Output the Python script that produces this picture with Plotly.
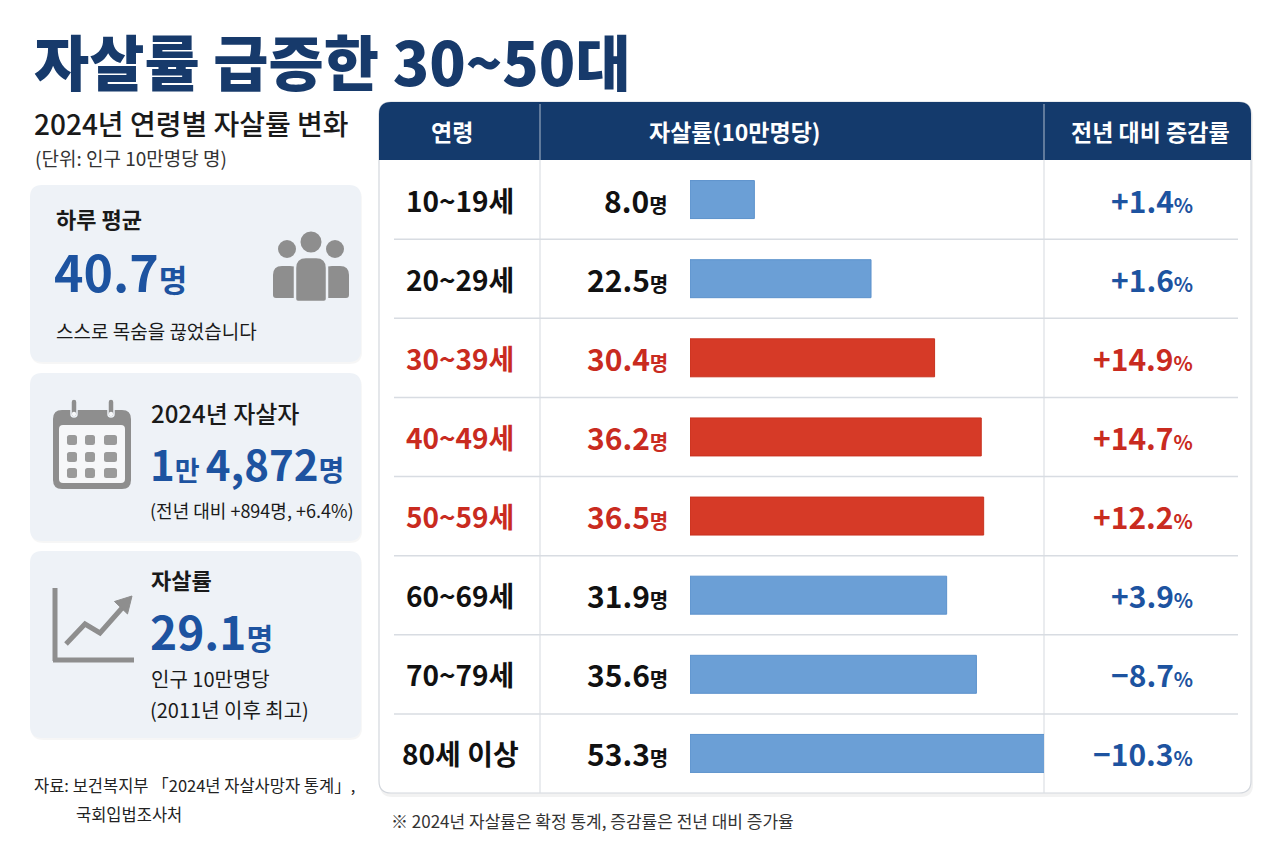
import plotly.graph_objects as go

# ---------------- data ----------------
ages = ["10~19세", "20~29세", "30~39세", "40~49세", "50~59세", "60~69세", "70~79세", "80세 이상"]
rates = [8.0, 22.5, 30.4, 36.2, 36.5, 31.9, 35.6, 53.3]          # 자살률 (10만명당)
changes = [1.4, 1.6, 14.9, 14.7, 12.2, 3.9, -8.7, -10.3]          # 전년 대비 증감률 (%)
highlight = [False, False, True, True, True, False, False, False]  # 30~50대 강조

daily_avg = 40.7
total_deaths = 14872
total_diff = 894
total_diff_pct = 6.4
overall_rate = 29.1
record_since = 2011

# ---------------- style ----------------
W, H = 1280, 853
FONT = "Noto Sans CJK KR, Noto Sans, sans-serif"
NAVY = "#173a6b"
HEAD = "#143a6c"
BLUE_TXT = "#1d53a0"
RED_TXT = "#c92b1f"
BLUE_BAR = "#6b9fd6"
RED_BAR = "#d63a27"
CARD = "#eef2f7"
ICON = "#8e8e8e"
DARK = "#1a1a1a"


def X(px):
    return px / W


def Y(py):
    return 1 - py / H


def P(x, y):
    return f"{X(x):.5f},{Y(y):.5f}"


def rpath(x0, y0, x1, y1, r, rb=None):
    rb = r if rb is None else rb
    return (f"M{P(x0 + r, y0)} L{P(x1 - r, y0)} Q{P(x1, y0)} {P(x1, y0 + r)} "
            f"L{P(x1, y1 - rb)} Q{P(x1, y1)} {P(x1 - rb, y1)} L{P(x0 + rb, y1)} "
            f"Q{P(x0, y1)} {P(x0, y1 - rb)} L{P(x0, y0 + r)} Q{P(x0, y0)} {P(x0 + r, y0)} Z")


shapes = []
annots = []


def rect(x0, y0, x1, y1, r, fill, line=None, lw=0, rb=None, layer="below"):
    shapes.append(dict(type="path", xref="paper", yref="paper", path=rpath(x0, y0, x1, y1, r, rb),
                       fillcolor=fill, line=dict(color=line or fill, width=lw), layer=layer))


def circle(cx, cy, r, fill, line=None, lw=0):
    shapes.append(dict(type="circle", xref="paper", yref="paper",
                       x0=X(cx - r), x1=X(cx + r), y0=Y(cy + r), y1=Y(cy - r),
                       fillcolor=fill, line=dict(color=line or fill, width=lw), layer="below"))


def line(x0, y0, x1, y1, color, w):
    shapes.append(dict(type="line", xref="paper", yref="paper", x0=X(x0), y0=Y(y0), x1=X(x1), y1=Y(y1),
                       line=dict(color=color, width=w), layer="below"))


def txt(x, y, s, size, color=DARK, weight=400, xanchor="left", yref="paper", family=FONT):
    annots.append(dict(x=X(x), y=(Y(y) if yref == "paper" else y), xref="paper", yref=yref, text=s,
                       showarrow=False, xanchor=xanchor, yanchor="middle", borderpad=0, valign="middle",
                       font=dict(family=family, size=size, color=color, weight=weight)))


# ---------------- title block ----------------
txt(33, 60, "자살률 급증한 30~50대", 60, NAVY, 900)
txt(33, 123, "2024년 연령별 자살률 변화", 28, DARK, 500)
txt(34, 158, "(단위: 인구 10만명당 명)", 19, "#333333", 400)

# ---------------- cards ----------------
for (y0, y1) in [(185, 362), (373, 541), (551, 738)]:
    rect(31, y0 + 2, 362, y1 + 2, 12, "rgba(0,0,0,0.035)")
    rect(30, y0, 361, y1, 12, CARD)

# card 1
txt(55, 218, "하루 평균", 22, DARK, 700)
txt(53, 270, f"<b>{daily_avg:.1f}</b><span style='font-size:31px'><b>명</b></span>", 50, BLUE_TXT, 700)
txt(55, 330, "스스로 목숨을 끊었습니다", 19, DARK, 400)
# people icon
rect(273, 266, 299, 298, 9, ICON, rb=3)
rect(323, 266, 349, 298, 9, ICON, rb=3)
circle(287, 249, 9, ICON)
circle(335, 249, 9, ICON)
rect(295, 257, 327, 302, 11, ICON, line=CARD, lw=2.5, rb=3)
circle(311, 242, 11.5, ICON, line=CARD, lw=2)

# card 2
txt(150, 412, "2024년 자살자", 24, DARK, 500)
man = total_deaths // 10000
rest = total_deaths % 10000
txt(149, 462, f"<b>{man}</b><span style='font-size:27px'><b>만 </b></span>"
              f"<b>{rest:,}</b><span style='font-size:28px'><b>명</b></span>",
    42, BLUE_TXT, 700)
txt(149, 510, f"(전년 대비 +{total_diff}명, +{total_diff_pct:.1f}%)", 18, DARK, 400)
# calendar icon
rect(53, 410, 131, 489, 9, ICON)
rect(59, 425, 125, 483, 4, "#f6f7f9")
for (rx0, rx1, cx) in [(71, 77, 74), (108, 114, 111)]:
    rect(rx0, 399, rx1, 417, 3, ICON, line=CARD, lw=1.5)
    circle(cx, 414, 2.2, "#f6f7f9")
for (ry0, ry1) in [(435, 445), (452, 462), (468, 478)]:
    for (cx0, cx1) in [(67, 77), (85, 95), (104, 117)]:
        rect(cx0, ry0, cx1, ry1, 2.5, "#9a9a9a")

# card 3
txt(150, 579, "자살률", 22, DARK, 700)
txt(149, 630, f"<b>{overall_rate:.1f}</b><span style='font-size:29px'><b>명</b></span>", 46, BLUE_TXT, 700)
txt(150, 678, "인구 10만명당", 20, DARK, 400)
txt(149, 709, f"({record_since}년 이후 최고)", 20, DARK, 400)
# trend icon
line(55, 588, 55, 661, ICON, 5)
line(53, 660, 134, 660, ICON, 5)
shapes.append(dict(type="path", xref="paper", yref="paper",
                   path=f"M{P(66, 644)} L{P(85, 624)} L{P(100, 633)} L{P(123, 607)}",
                   fillcolor="rgba(0,0,0,0)", line=dict(color=ICON, width=5), layer="below"))
shapes.append(dict(type="path", xref="paper", yref="paper",
                   path=f"M{P(132, 596)} L{P(114.5, 601.5)} L{P(127.5, 614)} Z",
                   fillcolor=ICON, line=dict(color=ICON, width=1), layer="below"))

# source
txt(33, 785, "자료: 보건복지부 「2024년 자살사망자 통계」,", 16.5, "#222222", 400)
txt(75, 814, "국회입법조사처", 16.5, "#222222", 400)

# ---------------- table frame ----------------
TL, TR, TT, TB = 379, 1251, 102, 793
HB = 160
rect(TL + 1, TT + 3, TR + 2, TB + 4, 12, "rgba(0,0,0,0.05)")
rect(TL, TT, TR, TB, 12, "white", line="#d3d7dd", lw=1.2)
rect(TL, TT, TR, HB, 12, HEAD, rb=0)
for xd in (540, 1044):
    line(xd, TT + 2, xd, HB, "rgba(255,255,255,0.55)", 1.2)
    line(xd, HB, xd, TB, "#dcdfe4", 1.2)

txt(452, 131, "<b>연령</b>", 23, "white", 700, xanchor="center")
txt(735, 131, "<b>자살률(10만명당)</b>", 23, "white", 700, xanchor="center")
txt(1150, 131, "<b>전년 대비 증감률</b>", 23, "white", 700, xanchor="center")

# row separators tied to the category axis
for i in range(len(ages) - 1):
    shapes.append(dict(type="line", xref="paper", yref="y", x0=X(394), x1=X(1238), y0=i + 0.5, y1=i + 0.5,
                       line=dict(color="#d8dce2", width=1.5), layer="below"))

# ---------------- bars ----------------
bar_colors = [RED_BAR if h else BLUE_BAR for h in highlight]
edge_colors = ["#c8321f" if h else "#5c92cc" for h in highlight]
fig = go.Figure(go.Bar(x=rates, y=ages, orientation="h", width=0.48,
                       marker=dict(color=bar_colors, line=dict(color=edge_colors, width=1)),
                       hoverinfo="skip"))

# row texts
for a, v, c, h in zip(ages, rates, changes, highlight):
    col = RED_TXT if h else "#111111"
    txt(460, a, f"<b>{a}</b>", 28, col, 700, xanchor="center", yref="y")
    txt(669, a, f"<b>{v:.1f}</b><span style='font-size:20px'>명</span>", 30, col, 700,
        xanchor="right", yref="y")
    sign = "+" if c >= 0 else "−"
    pcol = RED_TXT if h else BLUE_TXT
    txt(1194, a, f"<b>{sign}{abs(c):.1f}</b><span style='font-size:20px'>%</span>", 30, pcol, 700,
        xanchor="right", yref="y")

txt(390, 820, "※ 2024년 자살률은 확정 통계, 증감률은 전년 대비 증가율", 17, "#333333", 400)

fig.update_layout(
    width=W, height=H, autosize=False,
    margin=dict(l=0, r=0, t=0, b=0),
    paper_bgcolor="white", plot_bgcolor="rgba(0,0,0,0)",
    showlegend=False,
    font=dict(family=FONT),
    xaxis=dict(domain=[X(690), X(1044)], range=[0, 44], visible=False, fixedrange=True),
    yaxis=dict(domain=[Y(TB), Y(HB)], type="category", categoryorder="array", categoryarray=ages,
               range=[len(ages) - 0.5, -0.5], visible=False, fixedrange=True),
    shapes=shapes,
    annotations=annots,
    bargap=0,
)

fig.write_html("out.html", config={"displayModeBar": False, "staticPlot": True},
               post_script="document.body.style.margin='0';document.body.style.overflow='hidden';")
